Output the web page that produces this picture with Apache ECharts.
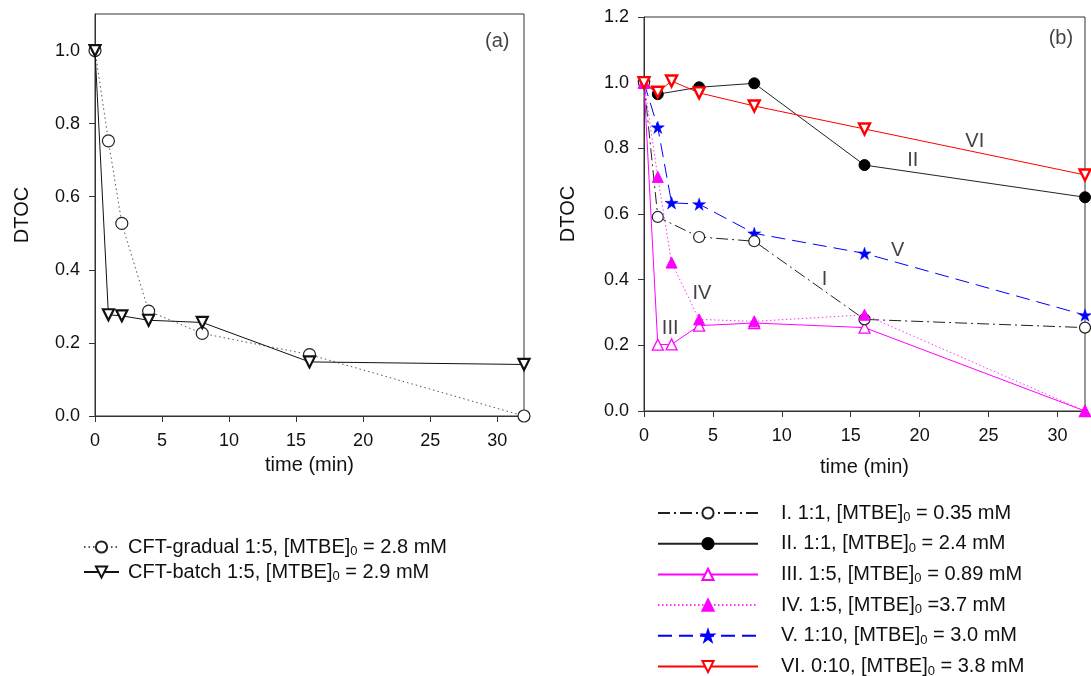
<!DOCTYPE html>
<html><head><meta charset="utf-8">
<script src="https://cdn.jsdelivr.net/npm/echarts@6/dist/echarts.min.js"></script>
<style>html,body{margin:0;padding:0;background:#fff}#c{width:1091px;height:676px}</style>
</head><body><div id="c"></div>
<script>
// ---------- data ----------
const xTicks = [0, 5, 10, 15, 20, 25, 30];
const yTicksA = [0.0, 0.2, 0.4, 0.6, 0.8, 1.0];
const yTicksB = [0.0, 0.2, 0.4, 0.6, 0.8, 1.0, 1.2];

// panel (a)
const namesA = ['CFT-gradual 1:5, [MTBE]0 = 2.8 mM', 'CFT-batch 1:5, [MTBE]0 = 2.9 mM'];
const tGradual = [0, 1, 2, 4, 8, 16, 32];
const vGradual = [1.0, 0.753, 0.527, 0.287, 0.226, 0.168, 0.0];
const tBatch = [0, 1, 2, 4, 8, 16, 32];
const vBatch = [1.0, 0.277, 0.274, 0.262, 0.256, 0.148, 0.141];

// panel (b)
const namesB = ['I. 1:1, [MTBE]0 = 0.35 mM', 'II. 1:1, [MTBE]0 = 2.4 mM', 'III. 1:5, [MTBE]0 = 0.89 mM',
                'IV. 1:5, [MTBE]0 =3.7 mM', 'V. 1:10, [MTBE]0 = 3.0 mM', 'VI. 0:10, [MTBE]0 = 3.8 mM'];
const tI = [0, 1, 4, 8, 16, 32];
const vI = [1.0, 0.591, 0.530, 0.517, 0.279, 0.254];
const tII = [0, 1, 4, 8, 16, 32];
const vII = [1.0, 0.965, 0.986, 0.998, 0.749, 0.651];
const tIII = [0, 1, 2, 4, 8, 16, 32];
const vIII = [1.0, 0.202, 0.203, 0.260, 0.268, 0.254, 0.0];
const tIV = [0, 1, 2, 4, 8, 16, 32];
const vIV = [1.0, 0.713, 0.452, 0.279, 0.273, 0.293, 0.0];
const tV = [0, 1, 2, 4, 8, 16, 32];
const vV = [1.0, 0.864, 0.634, 0.630, 0.541, 0.480, 0.292];
const tVI = [0, 1, 2, 4, 8, 16, 32];
const vVI = [1.0, 0.971, 1.005, 0.969, 0.929, 0.859, 0.719];

// annotations [text, x, y]
const annotA = [['(a)', 30.0, 1.025]];
const annotB = [['(b)', 30.25, 1.135], ['VI', 24.0, 0.82], ['II', 19.5, 0.764], ['V', 18.4, 0.49],
                ['I', 13.1, 0.40], ['IV', 4.2, 0.358], ['III', 1.9, 0.251]];

// ---------- chart ----------
const FONT = 'Liberation Sans, Arial, Helvetica, sans-serif';
const pairs = (t, v) => t.map((x, i) => [x, v[i]]);
const STAR = 'path://M50,0 L61.8,35.3 L99,35.3 L68.9,57.1 L80.3,92.7 L50,70.6 L19.7,92.7 L31.1,57.1 L1,35.3 L38.2,35.3 Z';

function xAxisFor(gi, gap) {
  return {
    gridIndex: gi, type: 'value', min: 0, max: 32, interval: 5,
    axisLine: {show: true, onZero: false, lineStyle: {color: '#333', width: 1}},
    axisTick: {show: true, length: 6, lineStyle: {color: '#333'}, customValues: xTicks},
    axisLabel: {margin: 16, fontSize: 18, color: '#111', fontFamily: FONT, customValues: xTicks,
                formatter: v => xTicks.includes(v) ? String(v) : ''},
    splitLine: {show: false},
    name: 'time (min)', nameLocation: 'middle', nameGap: gap,
    nameTextStyle: {fontSize: 20, color: '#111', fontFamily: FONT}
  };
}
function yAxisFor(gi, max, ticks, gap) {
  return {
    gridIndex: gi, type: 'value', min: 0, max: max, interval: 0.2,
    axisLine: {show: true, onZero: false, lineStyle: {color: '#333', width: 1}},
    axisTick: {show: true, length: 6, lineStyle: {color: '#333'}, customValues: ticks},
    axisLabel: {margin: 15, fontSize: 18, color: '#111', fontFamily: FONT, customValues: ticks,
                formatter: v => ticks.some(t => Math.abs(t - v) < 1e-9) ? v.toFixed(1) : ''},
    splitLine: {show: false},
    name: 'DTOC', nameLocation: 'middle', nameGap: gap,
    nameTextStyle: {fontSize: 20, color: '#111', fontFamily: FONT}
  };
}
function lineSeries(name, gi, data, o) {
  return {
    name: name, type: 'line', xAxisIndex: gi, yAxisIndex: gi, data: data,
    symbol: o.symbol, symbolSize: o.size || 11, symbolRotate: o.rotate || 0, symbolKeepAspect: true,
    lineStyle: {color: o.lineColor, width: o.lineWidth || 1, type: o.dash || 'solid'},
    itemStyle: {color: o.fill, borderColor: o.border, borderWidth: o.bw || 1, opacity: 1},
    emphasis: {disabled: true}, z: o.z || 2
  };
}
function annotSeries(gi, list) {
  return {
    type: 'scatter', xAxisIndex: gi, yAxisIndex: gi, symbolSize: 0, silent: true, z: 5,
    data: list.map(a => ({name: a[0], value: [a[1], a[2]]})),
    label: {show: true, position: 'inside', formatter: '{b}', fontSize: 20, color: '#111', fontFamily: FONT},
    emphasis: {disabled: true}
  };
}
const legendText = {
  fontSize: 20, color: '#111', fontFamily: FONT, lineHeight: 22,
  rich: {sub: {fontSize: 13, lineHeight: 22, verticalAlign: 'bottom', color: '#111', fontFamily: FONT, padding: [4, 0, 0, 0]}}
};
const legendFmt = n => n.replace(']0', ']{sub|0}');

const option = {
  animation: false,
  backgroundColor: '#fff',
  grid: [
    {left: 95, top: 14, width: 429, height: 402, show: true, borderColor: '#333', borderWidth: 1, backgroundColor: 'transparent'},
    {left: 644, top: 17, width: 441, height: 394, show: true, borderColor: '#333', borderWidth: 1, backgroundColor: 'transparent'}
  ],
  xAxis: [xAxisFor(0, 39), xAxisFor(1, 46)],
  yAxis: [yAxisFor(0, 1.1, yTicksA, 63), yAxisFor(1, 1.2, yTicksB, 66)],
  legend: [
    {data: namesA, orient: 'vertical', left: 83, top: 536, width: 500, height: 300, padding: 0, itemWidth: 35, itemHeight: 14, itemGap: 3,
     selectedMode: false, formatter: legendFmt, textStyle: Object.assign({padding: [0, 0, 0, 4]}, legendText)},
    {data: namesB, orient: 'vertical', left: 657, top: 502, width: 430, height: 300, padding: 0, itemWidth: 100, itemHeight: 14, itemGap: 8.7,
     selectedMode: false, formatter: legendFmt, textStyle: Object.assign({padding: [0, 0, 0, 18]}, legendText)}
  ],
  series: [
    lineSeries(namesA[0], 0, pairs(tGradual, vGradual), {symbol: 'circle', size: 12, lineColor: '#555', dash: [1.5, 3], fill: '#fff', border: '#222', bw: 1.2}),
    lineSeries(namesA[1], 0, pairs(tBatch, vBatch), {symbol: 'triangle', rotate: 180, size: 11, lineColor: '#111', fill: '#fff', border: '#111', bw: 2.2}),
    lineSeries(namesB[0], 1, pairs(tI, vI), {symbol: 'circle', size: 11, lineColor: '#222', dash: [12, 4, 2, 4], fill: '#fff', border: '#222', bw: 1.2, z: 3}),
    lineSeries(namesB[1], 1, pairs(tII, vII), {symbol: 'circle', size: 11, lineColor: '#222', fill: '#000', border: '#000', bw: 1}),
    lineSeries(namesB[2], 1, pairs(tIII, vIII), {symbol: 'triangle', size: 11, lineColor: '#ff00ff', fill: '#fff', border: '#ff00ff', bw: 1.3}),
    lineSeries(namesB[3], 1, pairs(tIV, vIV), {symbol: 'triangle', size: 11, lineColor: '#ff33ff', dash: [1.5, 2.5], fill: '#ff00ff', border: '#ff00ff', bw: 1, z: 3}),
    lineSeries(namesB[4], 1, pairs(tV, vV), {symbol: STAR, size: 13, lineColor: '#0000ff', dash: [14, 7], fill: '#0000ff', border: '#0000ff', bw: 0.5}),
    lineSeries(namesB[5], 1, pairs(tVI, vVI), {symbol: 'triangle', rotate: 180, size: 11, lineColor: '#ff0000', fill: '#fff', border: '#ff0000', bw: 2.4, z: 4}),
    annotSeries(0, annotA),
    annotSeries(1, annotB)
  ]
};
const chart = echarts.init(document.getElementById('c'), null, {renderer: 'canvas'});
chart.setOption(option);
</script></body></html>
